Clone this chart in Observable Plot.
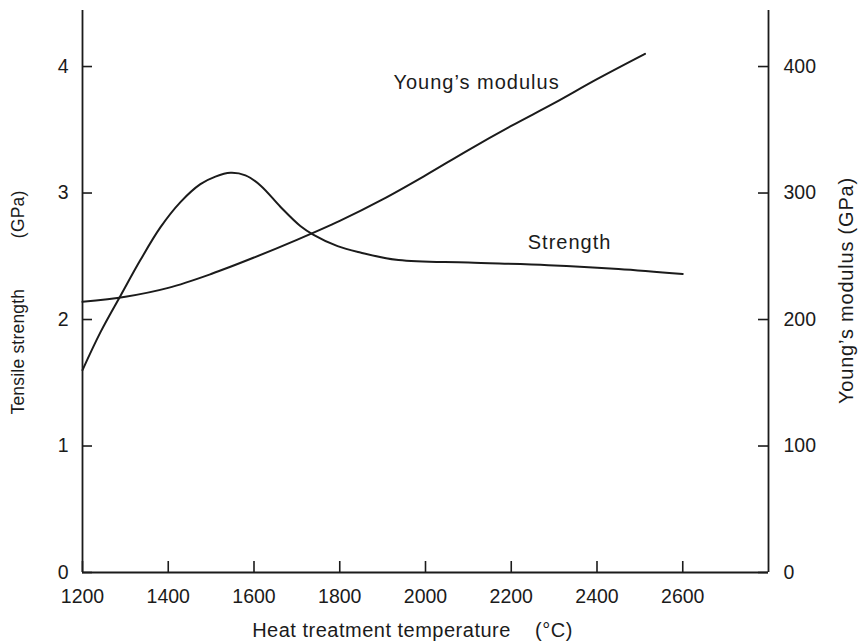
<!DOCTYPE html>
<html>
<head>
<meta charset="utf-8">
<script src="https://cdn.jsdelivr.net/npm/d3@7"></script>
<script src="https://cdn.jsdelivr.net/npm/@observablehq/plot@0.6"></script>
<style>
  html, body { margin: 0; padding: 0; background: #fff; }
  #chart svg { display: block; }
</style>
</head>
<body>
<div id="chart"></div>
<script>
// Tensile strength (GPa) vs heat treatment temperature (°C)
const strengthTemp = [1200, 1242, 1289, 1335, 1382, 1429, 1475, 1510, 1545, 1580, 1615, 1662, 1708, 1739, 1795, 1848, 1937, 2100, 2286, 2450, 2600];
const strength     = [1.60, 1.90, 2.19, 2.47, 2.73, 2.93, 3.07, 3.13, 3.16, 3.14, 3.06, 2.89, 2.74, 2.67, 2.58, 2.53, 2.47, 2.45, 2.43, 2.40, 2.36];

// Young's modulus (GPa) vs heat treatment temperature (°C)
const modulusTemp = [1200, 1300, 1400, 1500, 1600, 1700, 1800, 1900, 2000, 2100, 2200, 2300, 2400, 2512];
const modulus     = [214, 218, 225, 236, 249, 263, 278, 295, 314, 334, 353, 371, 390, 410];

// Axis ticks
const xTicks = [1200, 1400, 1600, 1800, 2000, 2200, 2400, 2600];
const strengthTicks = [0, 1, 2, 3, 4];          // GPa (left)
const modulusTicks = [0, 100, 200, 300, 400];    // GPa (right)

// Curve annotations
const curveLabels = [
  {text: "Young\u2019s modulus", t: 2119, v: 3.87},
  {text: "Strength", t: 2336, v: 2.61}
];

const W = 860, H = 643;
const mL = 82, mR = 92, mT = 10, mB = 71;
const frameW = W - mL - mR, frameH = H - mT - mB;
const ink = "#1b1b1b";
const font = "'Liberation Sans', Arial, Helvetica, sans-serif";

const strengthData = strengthTemp.map((t, i) => ({t, v: strength[i]}));
const modulusData = modulusTemp.map((t, i) => ({t, m: modulus[i]}));
const MOD_PER_GPA = 100; // right axis: 100 GPa modulus per 1 GPa strength

const xTitle = "Heat treatment temperature\u00a0\u00a0\u00a0\u00a0(°C)";
const yLeftTitle = "Tensile strength" + "\u00a0".repeat(10) + "(GPa)";
const yRightTitle = "Young\u2019s modulus (GPa)";

const chart = Plot.plot({
  width: W,
  height: H,
  marginLeft: mL,
  marginRight: mR,
  marginTop: mT,
  marginBottom: mB,
  style: {fontFamily: font, color: ink, background: "#fff"},
  x: {domain: [1200, 2800]},
  y: {domain: [0, 4.443]},
  marks: [
    // frame lines
    Plot.ruleX([1200, 2800], {stroke: ink, strokeWidth: 1.8}),
    Plot.ruleY([0], {stroke: ink, strokeWidth: 1.8}),
    // inward ticks
    Plot.ruleX(xTicks, {stroke: ink, strokeWidth: 1.6, insetTop: frameH - 11}),
    Plot.ruleY(strengthTicks, {stroke: ink, strokeWidth: 1.6, insetRight: frameW - 10}),
    Plot.ruleY(modulusTicks, {y: d => d / MOD_PER_GPA, stroke: ink, strokeWidth: 1.6, insetLeft: frameW - 10}),
    // axes labels
    Plot.axisX({ticks: xTicks, tickSize: 0, tickPadding: 17, tickFormat: d => String(d), fontSize: 19.5, label: null, fill: ink}),
    Plot.axisY({anchor: "left", ticks: strengthTicks, tickSize: 0, tickPadding: 14, tickFormat: d => String(d), fontSize: 19.5, label: null, fill: ink}),
    Plot.axisY({anchor: "right", ticks: strengthTicks, tickSize: 0, tickPadding: 15, tickFormat: d => String(d * MOD_PER_GPA), fontSize: 19.5, label: null, fill: ink}),
    // curves
    Plot.line(modulusData, {x: "t", y: d => d.m / MOD_PER_GPA, stroke: ink, strokeWidth: 2, curve: "catmull-rom"}),
    Plot.line(strengthData, {x: "t", y: "v", stroke: ink, strokeWidth: 2, curve: "catmull-rom"}),
    // curve annotations
    Plot.text(curveLabels, {x: "t", y: "v", text: "text", fontSize: 20, fill: ink}),
    // axis titles
    Plot.text([xTitle], {frameAnchor: "bottom", lineAnchor: "middle", textAnchor: "middle", dx: -13, dy: 58, fontSize: 20, fill: ink}),
    Plot.text([yLeftTitle], {frameAnchor: "left", textAnchor: "middle", lineAnchor: "middle", dx: -64, dy: 11, rotate: -90, fontSize: 17.5, fill: ink}),
    Plot.text([yRightTitle], {frameAnchor: "right", textAnchor: "middle", lineAnchor: "middle", dx: 78, dy: -1, rotate: -90, fontSize: 20, fill: ink})
  ]
});

// letter spacing to match the wide lettering of the original
const spacing = new Map([
  [curveLabels[0].text, "1px"], [curveLabels[1].text, "1px"],
  [xTitle, "0.5px"], [yLeftTitle, "0.2px"], [yRightTitle, "0.8px"]
]);
d3.select(chart).selectAll("text").each(function() {
  const s = spacing.get(this.textContent);
  if (s) this.setAttribute("letter-spacing", s);
});

document.getElementById("chart").append(chart);
</script>
</body>
</html>
